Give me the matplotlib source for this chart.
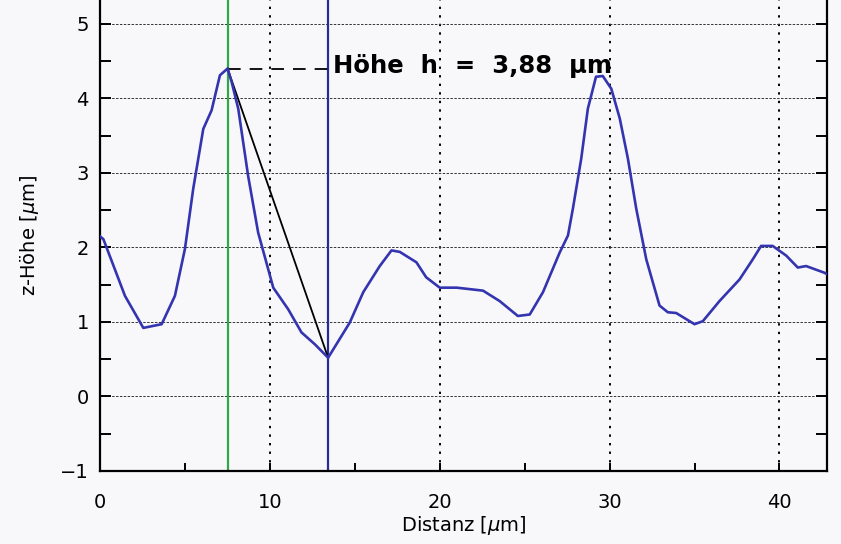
import matplotlib
matplotlib.use("Agg")
import matplotlib.pyplot as plt
from matplotlib.ticker import MultipleLocator

# profile data (Distanz in µm, z-Höhe in µm)
distanz = [0.0, 0.2, 1.47, 2.55, 3.63, 4.41, 5.0, 5.49, 6.08, 6.57, 7.06, 7.51,
           7.75, 8.14, 8.72, 9.31, 9.90, 10.2, 11.08, 11.86, 12.65, 13.43,
           14.7, 15.5, 16.47, 17.16, 17.65, 18.63, 19.2, 20.0, 21.0, 22.55,
           23.53, 24.6, 25.3, 26.08, 27.06, 27.55, 27.84, 28.33, 28.72, 29.2,
           29.6, 30.1, 30.6, 31.08, 31.57, 32.16, 32.94, 33.43, 33.92, 35.0,
           35.49, 36.47, 37.65, 38.43, 38.92, 39.6, 40.4, 41.08, 41.57, 42.65, 42.8]
hoehe = [2.15, 2.11, 1.35, 0.92, 0.97, 1.35, 1.98, 2.79, 3.59, 3.84, 4.31, 4.40,
         4.22, 3.86, 2.96, 2.20, 1.71, 1.46, 1.17, 0.86, 0.70, 0.52,
         0.99, 1.40, 1.75, 1.96, 1.94, 1.80, 1.60, 1.46, 1.46, 1.42,
         1.28, 1.08, 1.10, 1.40, 1.93, 2.16, 2.52, 3.19, 3.86, 4.29,
         4.30, 4.13, 3.73, 3.19, 2.52, 1.84, 1.22, 1.13, 1.12, 0.97,
         1.01, 1.28, 1.57, 1.84, 2.02, 2.02, 1.89, 1.73, 1.75, 1.66, 1.64]

cursor_peak = (7.51, 4.40)
cursor_valley = (13.43, 0.52)
label_text = "Höhe  h  =  3,88  μm"
x_ticks = [0, 10, 20, 30, 40]
y_ticks = [-1, 0, 1, 2, 3, 4, 5]

W, H = 841, 544
fig = plt.figure(figsize=(W / 100, H / 100), dpi=100, facecolor="#f8f8fa")
ax = fig.add_axes([100 / W, (H - 471) / H, 727 / W, 471 / H])
ax.set_facecolor("#f8f8fa")

ax.set_xlim(0, 42.8)
ax.set_ylim(-1, 5.32)

# grid
for xv in x_ticks[1:]:
    ax.axvline(xv, color="black", lw=1.4, ls=(0, (1.2, 3.2)), zorder=1)
for yv in y_ticks[1:]:
    ax.axhline(yv, color="#333333", lw=0.7, ls=(0, (2.5, 1.5)), zorder=1)

# cursors
line_blue = "#3434b0"
ax.axvline(cursor_peak[0], color="#2fa84a", lw=1.6, zorder=2)
ax.axvline(cursor_valley[0], color="#2a2a96", lw=1.6, zorder=2)
ax.plot([cursor_peak[0], cursor_valley[0]], [cursor_peak[1], cursor_valley[1]],
        color="black", lw=1.3, zorder=3)
ax.plot([cursor_peak[0], cursor_valley[0]], [cursor_peak[1], cursor_peak[1]],
        color="black", lw=1.3, ls=(0, (7, 5)), zorder=3)

# profile
ax.plot(distanz, hoehe, color=line_blue, lw=1.9, zorder=4)

ax.text(cursor_valley[0] + 0.3, cursor_peak[1] + 0.04, label_text,
        fontsize=17.5, fontweight="bold", ha="left", va="center", color="black",
        zorder=5)

# axes styling
ax.spines["top"].set_visible(False)
for s in ("left", "right", "bottom"):
    ax.spines[s].set_linewidth(1.6)
    ax.spines[s].set_color("black")

ax.set_xticks(x_ticks)
ax.set_yticks(y_ticks)
ax.xaxis.set_minor_locator(MultipleLocator(5))
ax.yaxis.set_minor_locator(MultipleLocator(0.5))
ax.tick_params(axis="both", which="both", direction="in", color="black", width=1.4)
ax.tick_params(axis="y", which="both", length=8, left=True, right=True, labelright=False)
ax.tick_params(axis="x", which="both", length=6, top=False, bottom=True)
ax.tick_params(axis="y", which="major", labelsize=14, pad=8)
ax.tick_params(axis="x", which="major", labelsize=14, pad=16)
ax.set_yticklabels(["\u22121", "0", "1", "2", "3", "4", "5"])

ax.set_xlabel(r"Distanz [$\mu$m]", fontsize=14, labelpad=1)
ax.set_ylabel(r"z-Höhe [$\mu$m]", fontsize=14, labelpad=14)

fig.savefig("out.png", dpi=100, facecolor=fig.get_facecolor())
